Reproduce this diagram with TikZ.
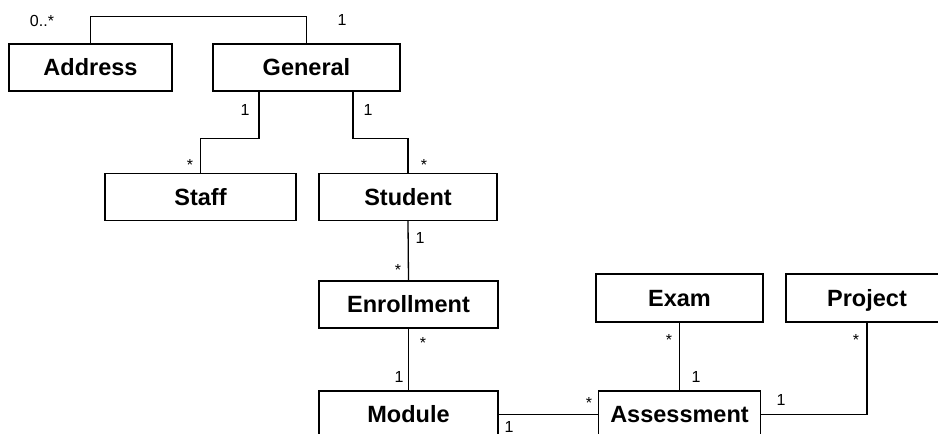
\documentclass[tikz,border=0pt]{standalone}
\usepackage{fontspec}
\setmainfont{Liberation Sans}
\usetikzlibrary{positioning}

\begin{document}
\begin{tikzpicture}[x=1pt, y=1pt, line width=1.3pt,
    cls/.style={draw, rectangle, inner sep=0pt, minimum height=47pt,
        text height=16.5pt, text depth=0pt,
        font=\fontsize{23.5}{27}\selectfont\bfseries},
    mult/.style={inner sep=0pt, anchor=base, font=\fontsize{16}{18}\selectfont}]
    \useasboundingbox (0,0) rectangle (938,434);

    \node[cls, minimum width=163pt] (address) at (90.5,366.5) {Address};
    \node[cls, minimum width=187pt] (general) at (306.5,366.5) {General};
    \node[cls, minimum width=191pt] (staff) at (200.5,237) {Staff};
    \node[cls, minimum width=178pt] (student) at (408,237) {Student};
    \node[cls, minimum width=179pt] (enrollment) at (408.5,129.5) {Enrollment};
    \node[cls, minimum width=179pt] (module) at (408.5,19.5) {Module};
    \node[cls, minimum width=167pt, minimum height=48pt] (exam) at (679.5,136) {Exam};
    \node[cls, minimum width=162pt, minimum height=48pt] (project) at (867,136) {Project};
    \node[cls, minimum width=162pt] (assessment) at (679.5,19.5) {Assessment};

    \draw (address.north) -- ++(0,27) -| (general.north);
    \draw ([xshift=-47.5pt]general.south) -- ++(0,-47) -| (staff.north);
    \draw ([xshift=46.5pt]general.south) -- ++(0,-47) -| (student.north);
    \draw (student.south) -- (enrollment.north);
    \draw (enrollment.south) -- (module.north);
    \draw (module.east) -- (assessment.west);
    \draw (exam.south) -- (assessment.north);
    \draw (assessment.east) -| (project.south);

    \node[mult] (m1) at (42,407) {0..*};
    \node[mult] (m2) at (342,408) {1};
    \node[mult] (m3) at (245,318) {1};
    \node[mult] (m4) at (368,318) {1};
    \node[mult] (m5) at (190,263) {*};
    \node[mult] (m6) at (424,263) {*};
    \node[mult] (m7) at (420,190) {1};
    \node[mult] (m8) at (398,158) {*};
    \node[mult] (m9) at (423,85) {*};
    \node[mult] (m10) at (399,51) {1};
    \node[mult] (m11) at (509,1) {1};
    \node[mult] (m12) at (589,25) {*};
    \node[mult] (m13) at (669,88) {*};
    \node[mult] (m14) at (696,51) {1};
    \node[mult] (m15) at (781,28) {1};
    \node[mult] (m16) at (856,88) {*};
\end{tikzpicture}
\end{document}
